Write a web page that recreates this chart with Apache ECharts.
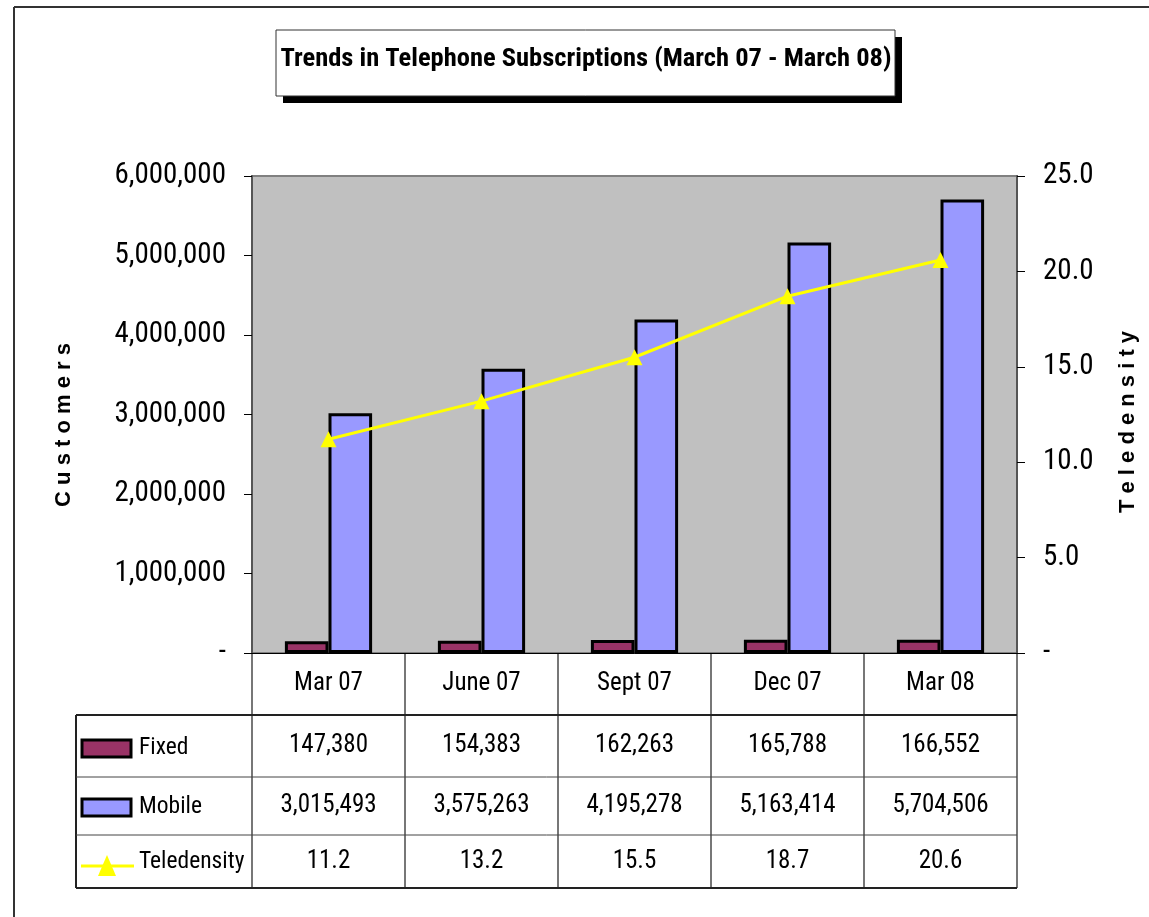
<!DOCTYPE html>
<html>
<head>
<meta charset="UTF-8">
<title>Trends in Telephone Subscriptions</title>
<script src="https://cdn.jsdelivr.net/npm/echarts@6/dist/echarts.min.js"></script>
<style>
  html, body { margin: 0; padding: 0; background: #fff; }
  #chart { width: 1149px; height: 917px; }
</style>
</head>
<body>
<div id="chart"></div>
<script>
// data
var categories = ['Mar 07', 'June 07', 'Sept 07', 'Dec 07', 'Mar 08'];
var fixedData = [147380, 154383, 162263, 165788, 166552];
var mobileData = [3015493, 3575263, 4195278, 5163414, 5704506];
var teledensityData = [11.2, 13.2, 15.5, 18.7, 20.6];
var seriesNames = ['Fixed', 'Mobile', 'Teledensity'];

var FONT = "'Liberation Sans Narrow', 'Arial Narrow', 'Roboto Condensed', 'Liberation Sans', Arial, sans-serif";
var colors = { fixed: '#993366', mobile: '#9999FF', line: '#FFFF00', plot: '#C0C0C0' };

// plot area in pixels
var G = { left: 252, right: 1017, top: 176, bottom: 653 };

var chart = echarts.init(document.getElementById('chart'));

function fmtNum(v) { return v.toLocaleString('en-US'); }

var option = {
  animation: false,
  backgroundColor: '#fff',
  grid: {
    left: G.left, top: G.top, width: G.right - G.left, height: G.bottom - G.top,
    show: true, backgroundColor: colors.plot, borderColor: '#808080', borderWidth: 2
  },
  xAxis: {
    type: 'category', data: categories,
    axisLine: { lineStyle: { color: '#000', width: 1 } },
    axisTick: { show: false },
    axisLabel: { show: false }
  },
  yAxis: [{
    type: 'value', min: 0, max: 6000000, interval: 1000000,
    axisLine: { show: true, lineStyle: { color: '#555', width: 2 } },
    axisTick: { show: true, inside: false, length: 8, lineStyle: { color: '#000' } },
    splitLine: { show: false },
    axisLabel: {
      margin: 26, fontSize: 29, fontFamily: FONT, color: '#000',
      formatter: function (v) { return v === 0 ? '-' : fmtNum(v); }
    }
  }, {
    type: 'value', min: 0, max: 25, interval: 5,
    axisLine: { show: true, lineStyle: { color: '#555', width: 2 } },
    axisTick: { show: true, inside: false, length: 8, lineStyle: { color: '#000' } },
    splitLine: { show: false },
    axisLabel: {
      margin: 26, fontSize: 29, fontFamily: FONT, color: '#000',
      formatter: function (v) { return v === 0 ? '-' : v.toFixed(1); }
    }
  }],
  series: [{
    name: seriesNames[0], type: 'bar', data: fixedData,
    barGap: '0%', barCategoryGap: '43%',
    itemStyle: { color: colors.fixed, borderColor: '#000', borderWidth: 3 }
  }, {
    name: seriesNames[1], type: 'bar', data: mobileData,
    barGap: '0%', barCategoryGap: '43%',
    itemStyle: { color: colors.mobile, borderColor: '#000', borderWidth: 3 }
  }, {
    name: seriesNames[2], type: 'line', yAxisIndex: 1, data: teledensityData,
    symbol: 'triangle', symbolSize: 16,
    lineStyle: { color: colors.line, width: 3 },
    itemStyle: { color: colors.line, borderWidth: 0 }
  }]
};
chart.setOption(option);

// graphic: title box, frame, axis titles and data table
var g = [];

// outer frame
g.push({ type: 'line', shape: { x1: 14, y1: 7, x2: 1149, y2: 7 }, style: { stroke: '#333', lineWidth: 2 } });
g.push({ type: 'line', shape: { x1: 14, y1: 7, x2: 14, y2: 917 }, style: { stroke: '#333', lineWidth: 2 } });

// title box with shadow
g.push({ type: 'rect', shape: { x: 283, y: 37, width: 619, height: 66 }, style: { fill: '#000' } });
g.push({ type: 'rect', shape: { x: 276, y: 30, width: 619, height: 66 }, style: { fill: '#fff', stroke: '#333', lineWidth: 1 } });
g.push({ type: 'text', x: 586, y: 59, style: {
  text: 'Trends in Telephone Subscriptions (March 07 - March 08)',
  fontSize: 26.5, fontWeight: 'bold', fontFamily: FONT, fill: '#000', align: 'center', verticalAlign: 'middle'
} });

// axis titles
g.push({ type: 'text', x: 64, y: 425, rotation: Math.PI / 2, style: {
  text: 'C u s t o m e r s', fontSize: 22, fontWeight: 'bold', fontFamily: "'Liberation Sans', Arial, sans-serif",
  fill: '#000', align: 'center', verticalAlign: 'middle'
} });
g.push({ type: 'text', x: 1128, y: 422, rotation: Math.PI / 2, style: {
  text: 'T e l e d e n s i t y', fontSize: 22, fontWeight: 'bold', fontFamily: "'Liberation Sans', Arial, sans-serif",
  fill: '#000', align: 'center', verticalAlign: 'middle'
} });

// data table
var rowY = [653, 715, 777, 835, 888];
var tableLeft = 76;
var colW = (G.right - G.left) / categories.length;
for (var i = 0; i <= categories.length; i++) {
  var x = G.left + i * colW;
  g.push({ type: 'line', shape: { x1: x, y1: 653, x2: x, y2: 888 }, style: { stroke: '#777', lineWidth: 2 } });
}
g.push({ type: 'line', shape: { x1: tableLeft, y1: 715, x2: tableLeft, y2: 888 }, style: { stroke: '#222', lineWidth: 2 } });
g.push({ type: 'line', shape: { x1: tableLeft, y1: 715, x2: G.right, y2: 715 }, style: { stroke: '#222', lineWidth: 2 } });
g.push({ type: 'line', shape: { x1: tableLeft, y1: 777, x2: G.right, y2: 777 }, style: { stroke: '#444', lineWidth: 1 } });
g.push({ type: 'line', shape: { x1: tableLeft, y1: 835, x2: G.right, y2: 835 }, style: { stroke: '#444', lineWidth: 1 } });
g.push({ type: 'line', shape: { x1: tableLeft, y1: 888, x2: G.right, y2: 888 }, style: { stroke: '#222', lineWidth: 2 } });

function cellText(txt, cx, cy) {
  return { type: 'text', x: cx, y: cy, style: {
    text: txt, fontSize: 25, fontFamily: FONT, fill: '#000', align: 'center', verticalAlign: 'middle'
  } };
}
var rows = [
  categories,
  fixedData.map(fmtNum),
  mobileData.map(fmtNum),
  teledensityData.map(function (v) { return v.toFixed(1); })
];
for (var r = 0; r < rows.length; r++) {
  var cy = (rowY[r] + rowY[r + 1]) / 2;
  for (var c = 0; c < categories.length; c++) {
    var cx = chart.convertToPixel({ xAxisIndex: 0 }, categories[c]);
    g.push(cellText(rows[r][c], cx, cy));
  }
}

// legend keys inside the table
g.push({ type: 'rect', shape: { x: 82, y: 740, width: 49, height: 17 }, style: { fill: colors.fixed, stroke: '#000', lineWidth: 3 } });
g.push({ type: 'rect', shape: { x: 82, y: 799, width: 49, height: 17 }, style: { fill: colors.mobile, stroke: '#000', lineWidth: 3 } });
g.push({ type: 'line', shape: { x1: 81, y1: 866, x2: 134, y2: 866 }, style: { stroke: colors.line, lineWidth: 3 } });
g.push({ type: 'polygon', shape: { points: [[107, 855], [98, 876], [116, 876]] }, style: { fill: colors.line } });
var legendY = [748, 807, 862];
for (var k = 0; k < seriesNames.length; k++) {
  g.push({ type: 'text', x: 139, y: legendY[k], style: {
    text: seriesNames[k], fontSize: 23.5, fontFamily: FONT, fill: '#000', align: 'left', verticalAlign: 'middle'
  } });
}

chart.setOption({ graphic: g });
</script>
</body>
</html>
